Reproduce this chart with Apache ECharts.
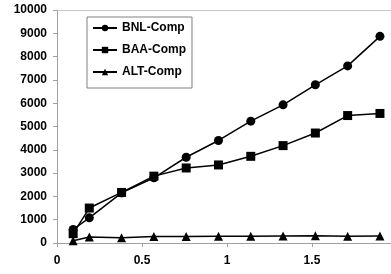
<!DOCTYPE html>
<html>
<head>
<meta charset="UTF-8">
<title>Comp</title>
<style>
html, body { margin: 0; padding: 0; background: #fff; }
#chart { width: 391px; height: 274px; }
</style>
</head>
<body>
<div id="chart"></div>
<script src="https://cdn.jsdelivr.net/npm/echarts@6/dist/echarts.min.js"></script>
<script>
// x positions of the samples
var xVals = [0.095, 0.19, 0.38, 0.57, 0.76, 0.95, 1.14, 1.33, 1.52, 1.71, 1.9];
var bnlComp = [580, 1080, 2150, 2800, 3680, 4400, 5230, 5930, 6790, 7600, 8870];
var baaComp = [400, 1500, 2170, 2870, 3220, 3350, 3720, 4180, 4720, 5470, 5560];
var altComp = [100, 260, 230, 280, 280, 290, 290, 300, 310, 290, 300];

function pairs(ys) {
    return xVals.map(function (x, i) { return [x, ys[i]]; });
}

var gray = '#a0a0a0';
var lbl = { color: '#000', fontFamily: 'Liberation Sans, Arial', fontWeight: 'bold', fontSize: 12 };

var chart = echarts.init(document.getElementById('chart'));
chart.setOption({
    animation: false,
    grid: { left: 57, right: 0, top: 10, bottom: 31 },
    legend: {
        left: 87, top: 17,
        orient: 'vertical',
        borderColor: '#808080', borderWidth: 1,
        padding: [5, 6, 10, 5],
        itemWidth: 24, itemHeight: 8, itemGap: 10,
        textStyle: lbl,
        data: ['BNL-Comp', 'BAA-Comp', 'ALT-Comp']
    },
    xAxis: [{
        type: 'value', min: 0, max: 1.965, interval: 0.5,
        axisLine: { lineStyle: { color: gray } },
        axisTick: { length: 4, lineStyle: { color: gray } },
        axisLabel: Object.assign({ margin: 12, showMaxLabel: false }, lbl),
        splitLine: { show: false }
    }, {
        type: 'value', position: 'top', min: 0, max: 1.965,
        axisLine: { show: true, lineStyle: { color: '#c8c8c8' } },
        axisTick: { show: false }, axisLabel: { show: false },
        splitLine: { show: false }
    }],
    yAxis: {
        type: 'value', min: 0, max: 10000, interval: 1000,
        axisLine: { show: true, lineStyle: { color: gray } },
        axisTick: { show: true, length: 4, lineStyle: { color: gray } },
        axisLabel: Object.assign({ margin: 10, formatter: function (v) { return String(v); } }, lbl),
        splitLine: { show: false }
    },
    series: [{
        name: 'BNL-Comp', type: 'line', data: pairs(bnlComp),
        symbol: 'circle', symbolSize: 9,
        lineStyle: { color: '#000', width: 1.5 }, itemStyle: { color: '#000' }
    }, {
        name: 'BAA-Comp', type: 'line', data: pairs(baaComp),
        symbol: 'rect', symbolSize: 9,
        lineStyle: { color: '#000', width: 1.5 }, itemStyle: { color: '#000' }
    }, {
        name: 'ALT-Comp', type: 'line', data: pairs(altComp),
        symbol: 'triangle', symbolSize: 9,
        lineStyle: { color: '#000', width: 1.5 }, itemStyle: { color: '#000' }
    }]
});
</script>
</body>
</html>
